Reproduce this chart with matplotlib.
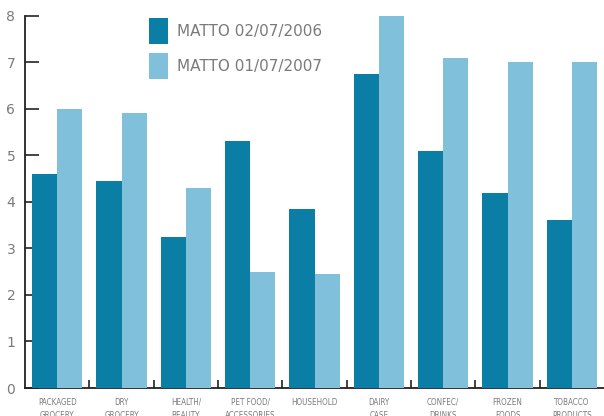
import matplotlib
matplotlib.use('Agg')
import matplotlib.pyplot as plt
import numpy as np

# Category sales share, two snapshot dates
categories = ['PACKAGED\nGROCERY', 'DRY\nGROCERY', 'HEALTH/\nBEAUTY',
              'PET FOOD/\nACCESSORIES', 'HOUSEHOLD', 'DAIRY\nCASE',
              'CONFEC/\nDRINKS', 'FROZEN\nFOODS', 'TOBACCO\nPRODUCTS']
matto_2006 = [4.6, 4.45, 3.25, 5.3, 3.85, 6.75, 5.1, 4.2, 3.6]
matto_2007 = [6.0, 5.9, 4.3, 2.5, 2.45, 8.0, 7.1, 7.0, 7.0]
series_labels = ['MATTO 02/07/2006', 'MATTO 01/07/2007']
y_ticks = [0, 1, 2, 3, 4, 5, 6, 7, 8]

COLORS = {
    'dark': '#0a7ea4',
    'light': '#80c0da',
    'text': '#7a7a7a',
    'axis': '#222222',
}

plt.rcParams['font.family'] = ['DejaVu Sans']

fig = plt.figure(figsize=(6.04, 4.16), dpi=100)
ax = fig.add_axes([0.0414, 0.0673, 0.9586, 0.895])

x = np.arange(len(categories))
w = 0.39
b1 = ax.bar(x - w / 2, matto_2006, width=w, color=COLORS['dark'], zorder=3, linewidth=0)
b2 = ax.bar(x + w / 2, matto_2007, width=w, color=COLORS['light'], zorder=3, linewidth=0)

ax.set_xlim(-0.5, 8.5)
ax.set_ylim(0, 8)

for side in ['top', 'right']:
    ax.spines[side].set_visible(False)
for side in ['left', 'bottom']:
    ax.spines[side].set_color(COLORS['axis'])
    ax.spines[side].set_linewidth(1.3)
    ax.spines[side].set_zorder(1)

# y axis: inward ticks
ax.set_yticks(y_ticks)
ax.tick_params(axis='y', direction='in', length=10, width=1.2, color=COLORS['axis'],
               labelsize=10, labelcolor=COLORS['text'], pad=7)

# x axis: labels at centres, small separators between groups
ax.set_xticks(x)
ax.set_xticklabels(categories, fontsize=5.8, color=COLORS['text'],
                   fontstretch='condensed', linespacing=1.6)
ax.tick_params(axis='x', which='major', length=0, pad=7)
ax.set_xticks(np.arange(0.5, 8, 1), minor=True)
ax.tick_params(axis='x', which='minor', direction='in', length=6, width=1.2,
               color=COLORS['axis'])

leg = ax.legend([b1, b2], series_labels, loc='upper left',
                bbox_to_anchor=(0.247, 0.957), bbox_transform=fig.transFigure,
                frameon=False, fontsize=11, handlelength=1.2, handleheight=2.3,
                handletextpad=0.6, labelspacing=0.55, borderpad=0, borderaxespad=0)
for t in leg.get_texts():
    t.set_color(COLORS['text'])

fig.savefig('out.png', dpi=100, facecolor='white')
